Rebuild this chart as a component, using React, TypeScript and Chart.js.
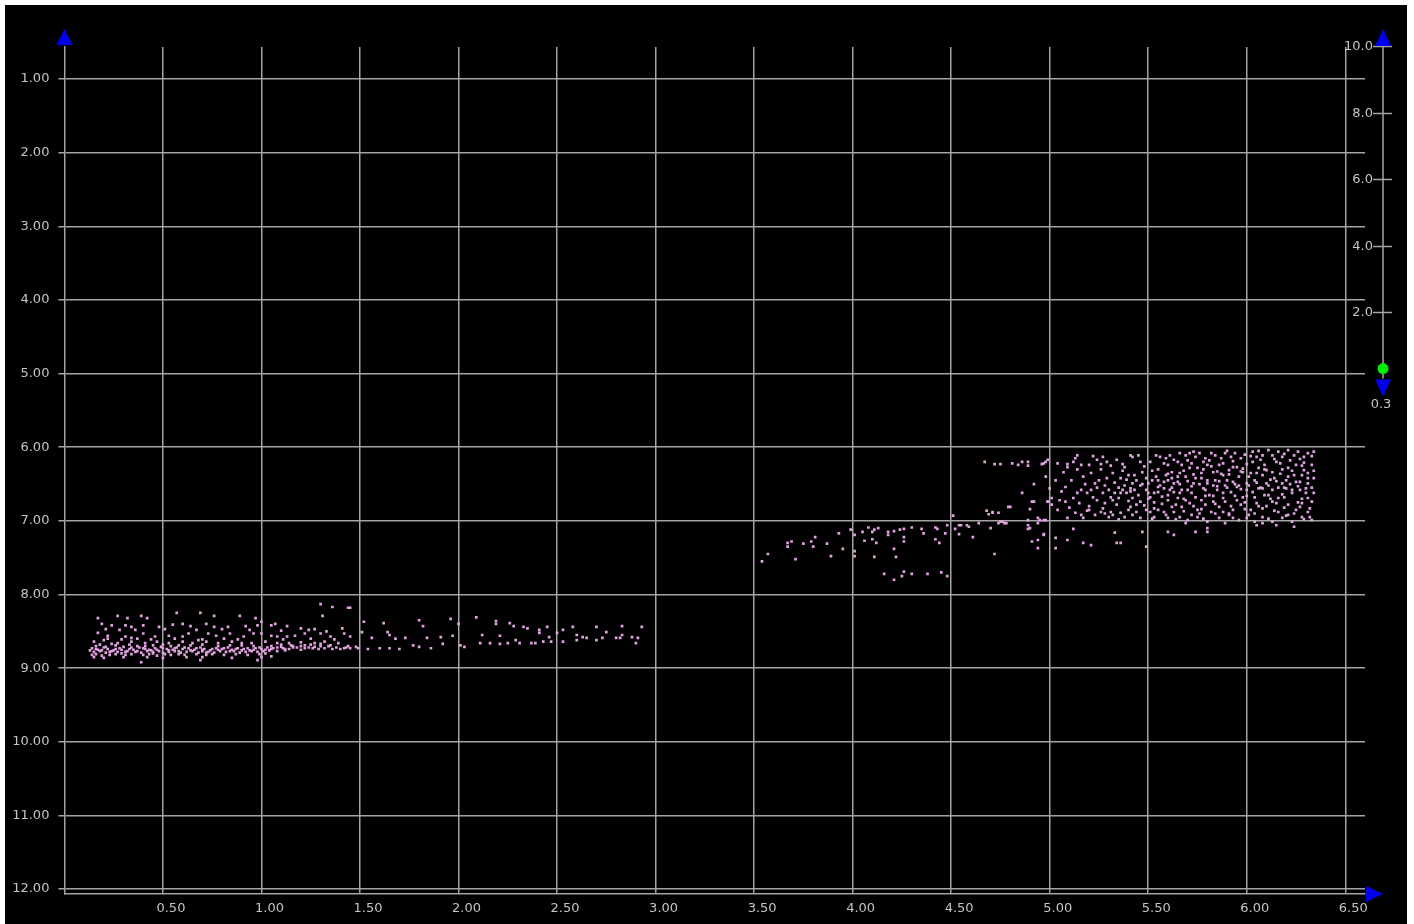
import React, { useEffect, useRef } from "react";
import { Chart, registerables } from "chart.js";

Chart.register(...registerables);

// ---- axis ticks ----
const xTicks = [0.5, 1, 1.5, 2, 2.5, 3, 3.5, 4, 4.5, 5, 5.5, 6, 6.5];
const yTicks = [1, 2, 3, 4, 5, 6, 7, 8, 9, 10, 11, 12];
const xRange = [0, 6.6];
const yRange = [0.5655, 12.067];

// ---- right-hand slider ----
const sliderTicks = [10, 8, 6, 4, 2];
const sliderValue = 0.3;

// ---- data: west group (x 0.1 - 2.95) ----
const westSparse: [number, number][] = [
  [0.17, 8.32], [0.27, 8.29], [0.32, 8.32], [0.39, 8.29], [0.42, 8.32], [0.57, 8.25], [0.69, 8.25], [0.76, 8.29],
  [0.89, 8.29], [0.97, 8.32], [1.0, 8.37], [1.3, 8.13], [1.36, 8.17], [1.31, 8.29], [1.44, 8.18],
  [0.19, 8.4], [0.24, 8.42], [0.31, 8.42], [0.34, 8.44], [0.4, 8.42], [0.48, 8.44], [0.55, 8.41], [0.6, 8.4],
  [0.64, 8.43], [0.72, 8.4], [0.76, 8.44], [0.83, 8.44], [0.92, 8.43], [0.98, 8.42], [1.05, 8.42], [1.07, 8.4],
  [1.13, 8.43], [1.2, 8.46], [1.27, 8.47], [1.33, 8.5], [1.41, 8.46],
  [0.17, 8.52], [0.22, 8.56], [0.31, 8.57], [0.34, 8.59], [0.4, 8.53], [0.46, 8.57], [0.53, 8.56], [0.6, 8.57],
  [0.63, 8.53], [0.68, 8.62], [0.73, 8.53], [0.77, 8.56], [0.84, 8.53], [0.91, 8.57], [0.96, 8.53], [1.0, 8.53],
  [1.05, 8.56], [1.08, 8.57], [1.13, 8.57], [1.17, 8.56], [1.22, 8.53], [1.3, 8.53], [1.35, 8.57], [1.42, 8.53],
  [1.45, 8.57],
  [0.15, 8.64], [0.2, 8.62], [0.27, 8.66], [0.34, 8.64], [0.41, 8.66], [0.47, 8.64], [0.53, 8.66], [0.6, 8.64],
  [0.65, 8.66], [0.72, 8.64], [0.78, 8.66], [0.85, 8.64], [0.9, 8.66], [0.95, 8.66], [1.02, 8.64], [1.08, 8.66],
  [1.14, 8.66], [1.2, 8.65], [1.27, 8.66], [1.32, 8.64], [1.39, 8.66],
  [0.22, 8.6], [0.29, 8.61], [0.37, 8.6], [0.44, 8.61], [0.56, 8.6], [0.7, 8.61], [0.81, 8.6], [0.88, 8.61],
  [1.11, 8.61], [1.25, 8.6], [1.37, 8.61],
  [0.21, 8.47], [0.28, 8.48], [0.36, 8.48], [0.51, 8.47], [0.67, 8.48], [0.8, 8.47], [0.94, 8.48], [1.1, 8.49],
  [1.24, 8.48],
];

const westDense: [number, number][] = [
  [0.14, 8.73], [0.17, 8.75], [0.2, 8.72], [0.22, 8.74], [0.25, 8.76], [0.28, 8.73], [0.3, 8.71], [0.33, 8.74],
  [0.35, 8.75], [0.38, 8.72], [0.41, 8.74], [0.44, 8.76], [0.46, 8.73], [0.49, 8.71], [0.52, 8.74], [0.55, 8.75],
  [0.57, 8.72], [0.6, 8.74], [0.63, 8.73], [0.66, 8.75], [0.69, 8.72], [0.71, 8.74], [0.74, 8.76], [0.77, 8.73],
  [0.8, 8.74], [0.83, 8.72], [0.85, 8.75], [0.88, 8.73], [0.91, 8.74], [0.94, 8.76], [0.97, 8.73], [1.0, 8.74],
  [1.03, 8.72], [1.06, 8.73], [1.1, 8.71], [1.14, 8.74], [1.18, 8.72], [1.22, 8.73], [1.27, 8.71], [1.32, 8.73],
  [1.38, 8.72],
  [0.15, 8.78], [0.18, 8.77], [0.21, 8.79], [0.24, 8.77], [0.27, 8.78], [0.29, 8.8], [0.32, 8.77], [0.36, 8.78],
  [0.39, 8.79], [0.42, 8.77], [0.45, 8.78], [0.48, 8.77], [0.5, 8.79], [0.53, 8.78], [0.56, 8.77], [0.59, 8.79],
  [0.62, 8.78], [0.65, 8.77], [0.68, 8.79], [0.7, 8.77], [0.73, 8.78], [0.76, 8.79], [0.79, 8.77], [0.82, 8.78],
  [0.86, 8.77], [0.89, 8.79], [0.92, 8.78], [0.95, 8.77], [0.98, 8.78], [1.01, 8.77], [1.04, 8.76], [1.08, 8.77],
  [1.12, 8.76],
  [0.14, 8.82], [0.16, 8.81], [0.19, 8.83], [0.23, 8.82], [0.26, 8.81], [0.31, 8.82], [0.34, 8.81], [0.4, 8.82],
  [0.43, 8.81], [0.47, 8.83], [0.51, 8.81], [0.54, 8.82], [0.58, 8.81], [0.61, 8.82], [0.67, 8.81], [0.72, 8.82],
  [0.75, 8.81], [0.81, 8.82], [0.87, 8.81], [0.93, 8.82], [0.99, 8.81], [1.02, 8.8],
  [0.16, 8.7], [0.26, 8.69], [0.37, 8.7], [0.45, 8.69], [0.54, 8.7], [0.64, 8.69], [0.78, 8.7], [0.9, 8.69],
  [1.05, 8.7], [1.15, 8.69], [1.25, 8.68], [1.35, 8.69], [1.44, 8.7],
  [0.15, 8.85], [0.2, 8.86], [0.3, 8.85], [0.39, 8.92], [0.42, 8.85], [0.5, 8.86], [0.62, 8.85], [0.69, 8.89],
  [0.7, 8.85], [0.85, 8.86], [0.98, 8.89], [1.0, 8.85], [1.05, 8.84],
  [1.12, 8.74], [1.16, 8.7], [1.2, 8.75], [1.24, 8.72], [1.29, 8.74], [1.34, 8.7], [1.4, 8.74], [1.43, 8.72],
  [1.48, 8.71],
  [0.13, 8.76], [0.16, 8.74], [0.19, 8.76], [0.21, 8.71], [0.23, 8.78], [0.26, 8.74], [0.29, 8.75], [0.31, 8.78],
  [0.34, 8.72], [0.37, 8.77], [0.4, 8.73], [0.43, 8.75], [0.45, 8.8], [0.47, 8.75], [0.5, 8.73], [0.53, 8.76],
  [0.56, 8.73], [0.58, 8.77], [0.61, 8.72], [0.64, 8.76], [0.67, 8.73], [0.7, 8.75], [0.72, 8.79], [0.75, 8.74],
  [0.78, 8.75], [0.81, 8.73], [0.84, 8.77], [0.87, 8.74], [0.9, 8.76], [0.93, 8.73], [0.96, 8.75], [0.99, 8.72],
  [1.02, 8.75], [1.05, 8.74], [1.08, 8.72], [1.11, 8.73], [1.16, 8.72], [1.2, 8.7], [1.26, 8.73], [1.3, 8.7],
  [1.36, 8.74], [1.42, 8.73],
  [0.18, 8.68], [0.24, 8.67], [0.33, 8.68], [0.41, 8.7], [0.5, 8.68], [0.58, 8.69], [0.7, 8.68], [0.84, 8.69],
  [0.96, 8.7], [1.1, 8.68], [1.22, 8.69], [1.3, 8.67],
];

const westTail: [number, number][] = [
  [1.45, 8.18], [1.52, 8.37], [1.62, 8.39], [1.8, 8.35], [1.82, 8.43], [1.96, 8.33], [2.0, 8.4], [2.09, 8.31],
  [2.19, 8.36], [2.19, 8.4], [2.26, 8.39], [2.28, 8.43], [2.33, 8.44], [2.35, 8.46], [2.41, 8.48], [2.45, 8.44],
  [2.53, 8.48], [2.58, 8.44], [2.7, 8.44], [2.83, 8.43], [2.93, 8.44],
  [1.51, 8.51], [1.64, 8.51], [1.65, 8.55], [1.56, 8.59], [1.68, 8.6], [1.73, 8.59], [1.84, 8.59], [1.91, 8.58],
  [1.97, 8.56], [2.12, 8.55], [2.21, 8.56], [2.29, 8.62], [2.41, 8.52], [2.46, 8.58], [2.5, 8.52], [2.6, 8.55],
  [2.63, 8.58], [2.75, 8.51], [2.8, 8.59], [2.83, 8.55], [2.88, 8.58], [2.91, 8.59],
  [1.45, 8.73], [1.49, 8.73], [1.54, 8.74], [1.6, 8.73], [1.65, 8.73], [1.7, 8.74], [1.77, 8.69], [1.8, 8.71],
  [1.86, 8.73], [1.92, 8.67], [2.01, 8.69], [2.03, 8.71], [2.11, 8.66], [2.16, 8.66], [2.21, 8.67], [2.25, 8.66],
  [2.31, 8.66], [2.37, 8.66], [2.39, 8.66], [2.43, 8.64], [2.47, 8.64], [2.53, 8.64], [2.6, 8.62], [2.65, 8.59],
  [2.7, 8.62], [2.73, 8.59], [2.82, 8.59], [2.9, 8.66],
];

// ---- data: middle group (x 3.5 - 5.05) ----
const midBand: [number, number][] = [
  [3.54, 7.55], [3.57, 7.45], [3.67, 7.3], [3.67, 7.35], [3.69, 7.28], [3.71, 7.52], [3.75, 7.31], [3.79, 7.28],
  [3.8, 7.35], [3.81, 7.22], [3.87, 7.31], [3.89, 7.48], [3.93, 7.17], [3.95, 7.38], [3.99, 7.12], [4.01, 7.19],
  [4.01, 7.41], [4.01, 7.48], [4.05, 7.15], [4.06, 7.27], [4.08, 7.09], [4.1, 7.15], [4.11, 7.12], [4.1, 7.25],
  [4.12, 7.3], [4.11, 7.49], [4.13, 7.1], [4.16, 7.72], [4.18, 7.15], [4.18, 7.19], [4.21, 7.38], [4.21, 7.14],
  [4.21, 7.8], [4.22, 7.49], [4.24, 7.12], [4.26, 7.69], [4.25, 7.75], [4.26, 7.11], [4.26, 7.22], [4.26, 7.28],
  [4.3, 7.09], [4.3, 7.72], [4.35, 7.11], [4.36, 7.17], [4.38, 7.72], [4.42, 7.09], [4.43, 7.11], [4.42, 7.25],
  [4.44, 7.3], [4.45, 7.7], [4.47, 7.17], [4.48, 7.06], [4.48, 7.75], [4.51, 6.93], [4.52, 7.11], [4.54, 7.06],
  [4.54, 7.18], [4.58, 7.06], [4.59, 7.08], [4.61, 7.22], [4.64, 7.03], [4.68, 6.86], [4.69, 6.91], [4.7, 7.1],
  [4.71, 6.89], [4.72, 7.45], [4.74, 7.03], [4.74, 6.89], [4.76, 7.01], [4.77, 7.03], [4.78, 7.03], [4.79, 6.81],
  [4.89, 6.99], [4.89, 7.06], [4.89, 7.11], [4.9, 6.84], [4.91, 7.28], [4.92, 6.74], [4.94, 7.37], [4.94, 6.96],
  [4.94, 7.03], [4.95, 6.99], [4.97, 7.18], [4.98, 6.99], [4.99, 6.74], [5.01, 6.78], [5.03, 7.23], [5.03, 7.37],
  [4.91, 6.74], [4.8, 6.81], [4.71, 6.88], [4.75, 7.01], [4.94, 7.26], [4.9, 7.1], [4.55, 7.06], [4.86, 6.62],
  [4.92, 6.5], [4.98, 6.4], [5.0, 6.56],
];

// ---- data: east group (x 4.65 - 6.35) ----
const eastTop: [number, number][] = [
  [4.67, 6.2], [4.72, 6.23], [4.75, 6.23], [4.81, 6.22], [4.84, 6.24], [4.86, 6.2], [4.89, 6.2], [4.89, 6.25],
  [4.96, 6.23], [4.98, 6.2], [4.99, 6.17],
  [4.97, 6.22], [5.04, 6.22], [5.09, 6.23], [5.09, 6.27], [5.12, 6.2], [5.13, 6.15], [5.14, 6.11], [5.16, 6.24],
  [5.2, 6.24], [5.22, 6.12], [5.24, 6.17], [5.26, 6.23], [5.27, 6.13], [5.29, 6.2], [5.31, 6.25], [5.34, 6.17],
  [5.37, 6.23], [5.38, 6.27], [5.41, 6.11], [5.42, 6.13], [5.45, 6.11], [5.46, 6.2], [5.51, 6.2], [5.54, 6.11],
  [5.56, 6.13], [5.59, 6.15], [5.61, 6.11], [5.6, 6.24], [5.63, 6.17], [5.62, 6.34],
  [5.66, 6.08], [5.69, 6.11], [5.71, 6.08], [5.74, 6.13], [5.76, 6.08], [5.79, 6.15], [5.82, 6.08], [5.84, 6.11],
  [5.87, 6.15], [5.89, 6.08], [5.92, 6.13], [5.94, 6.08], [5.97, 6.15], [6.03, 6.06], [6.05, 6.13], [6.08, 6.11],
  [6.11, 6.04], [6.13, 6.11], [6.16, 6.06], [6.18, 6.13], [6.21, 6.04], [6.24, 6.11], [6.26, 6.06], [6.29, 6.13],
  [6.31, 6.08], [6.34, 6.06],
  [5.67, 6.24], [5.72, 6.22], [5.75, 6.28], [5.8, 6.24], [5.83, 6.34], [5.88, 6.22], [5.91, 6.31], [5.95, 6.27],
  [5.98, 6.34], [6.03, 6.2], [6.06, 6.28], [6.09, 6.24], [6.13, 6.34], [6.17, 6.22], [6.21, 6.28], [6.25, 6.24],
  [6.29, 6.31], [6.33, 6.24],
  [5.7, 6.18], [5.78, 6.2], [5.86, 6.24], [5.93, 6.19], [6.0, 6.23], [6.07, 6.17], [6.15, 6.2], [6.22, 6.18],
  [6.29, 6.21],
  [5.65, 6.2], [5.73, 6.06], [5.81, 6.18], [5.9, 6.05], [5.99, 6.1], [6.06, 6.05], [6.19, 6.09], [6.27, 6.16],
  [6.33, 6.12],
];

const eastCore: [number, number][] = [
  [5.07, 6.34], [5.08, 6.54], [5.16, 6.58], [5.21, 6.35], [5.23, 6.49], [5.32, 6.35], [5.36, 6.42], [5.4, 6.38],
  [5.38, 6.52], [5.42, 6.49], [5.44, 6.45], [5.47, 6.34], [5.49, 6.42], [5.5, 6.49], [5.54, 6.4], [5.55, 6.54],
  [5.59, 6.38], [5.6, 6.45], [5.63, 6.49], [5.65, 6.4],
  [4.99, 6.74], [5.01, 6.69], [5.05, 6.72], [5.08, 6.74], [5.12, 6.69], [5.15, 6.76], [5.19, 6.62], [5.21, 6.58],
  [5.22, 6.68], [5.24, 6.72], [5.27, 6.62], [5.28, 6.76], [5.3, 6.58], [5.31, 6.68], [5.33, 6.62], [5.35, 6.69],
  [5.37, 6.58], [5.39, 6.62], [5.41, 6.56], [5.42, 6.69], [5.45, 6.65], [5.46, 6.74], [5.49, 6.58], [5.51, 6.68],
  [5.53, 6.62], [5.55, 6.61], [5.58, 6.56], [5.6, 6.65], [5.63, 6.61], [5.65, 6.69],
  [5.65, 6.47], [5.69, 6.4], [5.73, 6.49], [5.77, 6.42], [5.8, 6.49], [5.84, 6.45], [5.88, 6.38], [5.89, 6.52],
  [5.93, 6.47], [5.96, 6.4], [6.0, 6.49], [6.04, 6.45], [6.08, 6.38], [6.1, 6.49], [6.14, 6.42], [6.18, 6.49],
  [6.21, 6.4], [6.25, 6.47], [6.28, 6.38], [6.31, 6.49], [6.34, 6.42],
  [5.66, 6.62], [5.7, 6.58], [5.74, 6.68], [5.78, 6.56], [5.81, 6.65], [5.85, 6.58], [5.88, 6.69], [5.92, 6.61],
  [5.95, 6.54], [5.98, 6.68], [6.03, 6.61], [6.06, 6.56], [6.09, 6.65], [6.13, 6.58], [6.16, 6.69], [6.2, 6.56],
  [6.23, 6.62], [6.27, 6.58], [6.31, 6.69], [6.34, 6.62],
  [5.25, 6.45], [5.28, 6.52], [5.33, 6.48], [5.35, 6.55], [5.39, 6.44], [5.43, 6.58], [5.47, 6.5], [5.52, 6.45],
  [5.56, 6.52], [5.58, 6.47], [5.62, 6.55], [5.66, 6.5], [5.7, 6.46], [5.72, 6.53], [5.76, 6.5], [5.79, 6.58],
  [5.83, 6.52], [5.86, 6.46], [5.9, 6.55], [5.94, 6.5], [5.97, 6.57], [6.01, 6.52], [6.05, 6.48], [6.07, 6.55],
  [6.11, 6.52], [6.15, 6.46], [6.19, 6.55], [6.22, 6.5], [6.26, 6.53], [6.3, 6.56],
  [5.55, 6.3], [5.6, 6.36], [5.68, 6.32], [5.73, 6.37], [5.78, 6.3], [5.85, 6.33], [5.91, 6.37], [5.98, 6.29],
  [6.02, 6.35], [6.1, 6.31], [6.17, 6.36], [6.23, 6.32], [6.31, 6.35],
  [5.68, 6.7], [5.77, 6.72], [5.83, 6.66], [5.95, 6.72], [6.0, 6.66], [6.12, 6.7], [6.18, 6.64], [6.28, 6.7],
  [6.33, 6.74], [5.6, 6.72], [5.5, 6.7], [5.4, 6.73],
  [5.11, 6.45], [5.14, 6.62], [5.17, 6.4], [5.19, 6.86], [5.24, 6.55], [5.26, 6.3], [5.29, 6.42], [5.3, 6.95],
  [5.32, 6.72], [5.36, 6.62], [5.37, 6.32], [5.41, 6.6], [5.43, 6.38], [5.44, 6.78], [5.46, 6.52], [5.48, 6.26],
  [5.5, 6.62], [5.52, 6.32], [5.53, 6.75], [5.55, 6.45], [5.57, 6.67], [5.58, 6.22], [5.61, 6.58], [5.62, 6.42],
  [5.64, 6.78], [5.66, 6.35], [5.67, 6.58], [5.69, 6.72], [5.71, 6.28], [5.72, 6.62], [5.74, 6.42], [5.76, 6.9],
  [5.77, 6.35], [5.79, 6.66], [5.8, 6.45], [5.82, 6.26], [5.83, 6.74], [5.85, 6.53], [5.87, 6.36], [5.88, 6.62],
  [5.9, 6.45], [5.91, 6.9], [5.93, 6.27], [5.94, 6.66], [5.96, 6.52], [5.97, 6.33], [5.99, 6.75], [6.0, 6.58],
  [6.01, 6.4], [6.02, 6.12], [6.04, 6.68], [6.05, 6.35], [6.06, 6.8], [6.08, 6.56], [6.09, 6.3], [6.11, 6.65],
  [6.12, 6.44], [6.14, 6.16], [6.15, 6.76], [6.16, 6.55], [6.18, 6.3], [6.19, 6.68], [6.2, 6.45], [6.21, 6.92],
  [6.23, 6.58], [6.24, 6.38], [6.26, 6.75], [6.27, 6.47], [6.28, 6.25], [6.3, 6.62], [6.31, 6.42], [6.32, 6.95],
  [6.33, 6.55], [6.34, 6.32],
  [5.06, 6.6], [5.1, 6.82], [5.14, 6.3], [5.18, 6.5], [5.03, 6.45],
];

const eastLow: [number, number][] = [
  [4.97, 6.99], [5.04, 6.85], [5.09, 6.96], [5.13, 6.89], [5.16, 6.92], [5.17, 6.96], [5.2, 6.85], [5.23, 6.92],
  [5.26, 6.88], [5.31, 6.88], [5.32, 6.92], [5.36, 6.89], [5.38, 6.95], [5.4, 6.85], [5.42, 6.92], [5.46, 6.96],
  [5.49, 6.85], [5.51, 6.88], [5.53, 6.95], [5.55, 6.85], [5.59, 6.92], [5.6, 6.96], [5.63, 6.88],
  [5.67, 6.81], [5.71, 6.76], [5.75, 6.85], [5.79, 6.78], [5.82, 6.88], [5.86, 6.81], [5.89, 6.74], [5.93, 6.85],
  [5.97, 6.78], [6.02, 6.85], [6.05, 6.76], [6.08, 6.83], [6.13, 6.74], [6.16, 6.88], [6.21, 6.78], [6.25, 6.85],
  [6.28, 6.76], [6.32, 6.83],
  [5.66, 6.95], [5.7, 6.99], [5.75, 6.95], [5.8, 7.01], [5.86, 6.96], [5.91, 6.92], [5.96, 6.99], [6.0, 6.96],
  [6.04, 7.01], [6.08, 6.95], [6.13, 7.01], [6.18, 6.96], [6.23, 7.01], [6.28, 6.95], [6.33, 6.99],
  [5.2, 6.8], [5.27, 6.83], [5.34, 6.78], [5.41, 6.81], [5.48, 6.79], [5.53, 6.83], [5.57, 6.77], [5.62, 6.81],
  [5.68, 6.87], [5.73, 6.8], [5.77, 6.84], [5.84, 6.77], [5.88, 6.88], [5.92, 6.8], [5.99, 6.84], [6.04, 6.9],
  [6.1, 6.8], [6.14, 6.86], [6.19, 6.82], [6.24, 6.9], [6.27, 6.81], [6.31, 6.88],
  [5.28, 6.9], [5.35, 6.98], [5.44, 6.88], [5.52, 6.97], [5.58, 6.88], [5.64, 6.98], [5.72, 6.92], [5.78, 6.97],
  [5.84, 6.9], [5.93, 6.96], [6.01, 6.92], [6.11, 6.97], [6.2, 6.93], [6.29, 6.98],
  [4.97, 7.19], [5.09, 7.26], [5.12, 7.11], [5.17, 7.3], [5.21, 7.33], [5.33, 7.16], [5.34, 7.3], [5.36, 7.3],
  [5.47, 7.15], [5.49, 7.35], [5.6, 7.15], [5.63, 7.19],
  [5.69, 7.03], [5.74, 7.15], [5.8, 7.1], [5.8, 7.15], [5.89, 7.03], [6.05, 7.06], [6.08, 7.03], [6.24, 7.08],
  [6.15, 7.06],
];

// ---- styling constants ----
const GRID = "#a4a4a4";
const TEXT = "#c4c4c4";
const BLUE = "#0000ee";
const GREEN = "#00ee00";
const FONT = "13px 'DejaVu Sans', sans-serif";

const decorPlugin = {
  id: "decor",
  afterDraw(chart: any) {
    const { ctx, chartArea } = chart;
    const { left, top, bottom, right } = chartArea;
    ctx.save();
    ctx.fillStyle = BLUE;
    // y-axis arrow (up)
    ctx.beginPath();
    ctx.moveTo(left, top - 18);
    ctx.lineTo(left - 8, top - 2);
    ctx.lineTo(left + 8, top - 2);
    ctx.closePath();
    ctx.fill();
    // x-axis arrow (right)
    ctx.beginPath();
    ctx.moveTo(right + 1, bottom - 8);
    ctx.lineTo(right + 18, bottom);
    ctx.lineTo(right + 1, bottom + 8);
    ctx.closePath();
    ctx.fill();

    // slider
    const sx = 1378;
    const zeroY = 373.5;
    const unit = 33.25;
    const vy = (v: number) => zeroY - v * unit;
    const topY = vy(sliderTicks[0]);
    ctx.strokeStyle = GRID;
    ctx.lineWidth = 1.5;
    ctx.beginPath();
    ctx.moveTo(sx, topY);
    ctx.lineTo(sx, zeroY);
    ctx.stroke();
    ctx.font = FONT;
    ctx.fillStyle = TEXT;
    ctx.textAlign = "right";
    ctx.textBaseline = "middle";
    sliderTicks.forEach((t) => {
      const y = Math.round(vy(t)) + 0.5;
      ctx.beginPath();
      ctx.moveTo(sx - 10, y);
      ctx.lineTo(sx + 9, y);
      ctx.stroke();
      ctx.fillText(t.toFixed(1), sx - 10, y);
    });
    // up arrow
    ctx.fillStyle = BLUE;
    ctx.beginPath();
    ctx.moveTo(sx, topY - 17);
    ctx.lineTo(sx - 8, topY);
    ctx.lineTo(sx + 8, topY);
    ctx.closePath();
    ctx.fill();
    // down arrow
    ctx.beginPath();
    ctx.moveTo(sx - 8, zeroY + 1);
    ctx.lineTo(sx + 8, zeroY + 1);
    ctx.lineTo(sx, zeroY + 18);
    ctx.closePath();
    ctx.fill();
    // green handle
    ctx.fillStyle = GREEN;
    ctx.beginPath();
    ctx.arc(sx, vy(sliderValue), 5.5, 0, Math.PI * 2);
    ctx.fill();
    // value label
    ctx.fillStyle = TEXT;
    ctx.textAlign = "center";
    ctx.fillText(sliderValue.toFixed(1), sx - 2, zeroY + 26);
    ctx.restore();
  },
};

export default function App() {
  const ref = useRef<HTMLCanvasElement>(null);
  useEffect(() => {
    if (!ref.current) return;
    const all = [...westSparse, ...westDense, ...westTail, ...midBand, ...eastTop, ...eastCore, ...eastLow];
    const chart = new Chart(ref.current, {
      type: "scatter",
      data: {
        datasets: [
          {
            data: all.map(([x, y]) => ({ x, y })),
            backgroundColor: "#e0a2e0",
            borderWidth: 0,
            pointStyle: "rect",
            pointRadius: 1.9,
            pointHoverRadius: 1.9,
          },
        ],
      },
      options: {
        animation: false,
        responsive: false,
        events: [],
        layout: { padding: { left: 0, right: 42, top: 42, bottom: 0 } },
        plugins: { legend: { display: false }, tooltip: { enabled: false } },
        scales: {
          x: {
            type: "linear",
            min: xRange[0],
            max: xRange[1],
            afterBuildTicks: (s: any) => {
              s.ticks = xTicks.map((v) => ({ value: v }));
            },
            afterFit: (s: any) => {
              s.height = 30;
            },
            grid: { color: GRID, lineWidth: 1.5, drawTicks: false },
            border: { display: true, color: GRID, width: 1.5 },
            ticks: {
              color: TEXT,
              font: { family: "'DejaVu Sans', sans-serif", size: 13 },
              padding: 7,
              labelOffset: 8,
              maxRotation: 0,
              autoSkip: false,
              callback: (v: any) => Number(v).toFixed(2),
            },
          },
          y: {
            type: "linear",
            reverse: true,
            min: yRange[0],
            max: yRange[1],
            afterBuildTicks: (s: any) => {
              s.ticks = yTicks.map((v) => ({ value: v }));
            },
            afterFit: (s: any) => {
              s.width = 59.4;
            },
            grid: { color: GRID, lineWidth: 1.5, tickLength: 6 },
            border: { display: true, color: GRID, width: 1.5 },
            ticks: {
              color: TEXT,
              font: { family: "'DejaVu Sans', sans-serif", size: 13 },
              padding: 9,
              autoSkip: false,
              callback: (v: any) => Number(v).toFixed(2),
            },
          },
        },
      },
      plugins: [decorPlugin],
    });
    return () => chart.destroy();
  }, []);
  return (
    <div style={{ position: "fixed", left: 5, top: 5, width: 1402, height: 919, background: "#000" }}>
      <canvas ref={ref} width={1402} height={919} style={{ display: "block" }} />
    </div>
  );
}
